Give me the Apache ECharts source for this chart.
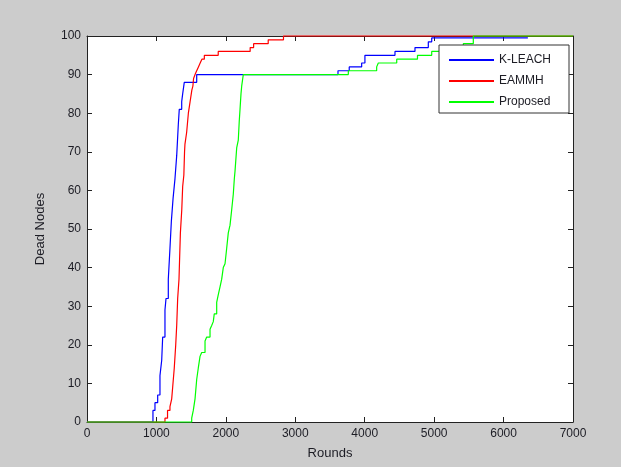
<!DOCTYPE html>
<html>
<head>
<meta charset="utf-8">
<script src="https://cdn.jsdelivr.net/npm/echarts@6/dist/echarts.min.js"></script>
<style>
html, body { margin: 0; padding: 0; background: #cccccc; }
#chart { width: 621px; height: 467px; }
</style>
</head>
<body>
<div id="chart"></div>
<script>
// rounds at which the dead-node count steps up, and the count after the step
var kleachRounds = [0, 950, 979, 1018, 1051, 1076, 1090, 1123, 1138, 1171, 1195, 1215, 1240, 1267, 1292, 1315, 1329, 1364, 1378, 1401, 1580, 3615, 3777, 3956, 4003, 4436, 4724, 4916, 4965, 6350];
var kleachDead = [0, 3, 5, 7, 12, 16, 22, 29, 32, 37, 45, 52, 58, 63, 69, 77, 81, 83, 85, 88, 90, 91, 92, 93, 95, 96, 97, 98.5, 99.5, 99.5];

var eammhRounds = [0, 1123, 1160, 1195, 1220, 1234, 1257, 1278, 1292, 1306, 1325, 1345, 1365, 1378, 1395, 1405, 1411, 1435, 1460, 1485, 1510, 1525, 1535, 1556, 1580, 1605, 1630, 1655, 1690, 1890, 2350, 2400, 2610, 2830, 7000];
var eammhDead = [0, 1, 3, 4, 6, 9, 14, 20, 25, 32, 37, 49, 55, 61, 64, 70, 72, 75, 80, 83, 86, 87, 89, 90, 91, 92, 93, 94, 95, 96, 97, 98, 99, 100, 100];

var proposedRounds = [0, 1508, 1531, 1556, 1580, 1603, 1628, 1652, 1700, 1724, 1772, 1796, 1819, 1833, 1868, 1891, 1916, 1940, 1963, 1988, 2012, 2035, 2060, 2084, 2107, 2122, 2132, 2156, 2179, 2193, 2204, 2218, 2228, 2251, 3764, 4172, 4196, 4461, 4760, 4965, 5200, 5420, 5564, 7000];
var proposedDead = [0, 1, 3, 6, 11, 14, 17, 18, 21, 22, 24, 25, 26, 28, 31, 33, 35, 37, 40, 41, 45, 49, 51, 55, 59, 63, 65, 71, 73, 78, 81, 85, 87, 90, 91, 92, 93, 94, 95, 96, 97, 98, 100, 100];

var seriesNames = ['K-LEACH', 'EAMMH', 'Proposed'];
var seriesColors = ['#0000ff', '#ff0000', '#00ff00'];

function pairs(xs, ys) {
	var out = [];
	for (var i = 0; i < xs.length; i++) {
		out.push([xs[i], ys[i]]);
	}
	return out;
}

var font = 'Liberation Sans, Arial, sans-serif';
var txt = '#1c1c24';

function boxAxis(pos, isX) {
	var ax = {
		type: 'value',
		position: pos,
		min: 0,
		max: isX ? 7000 : 100,
		interval: isX ? 1000 : 10,
		axisLine: { show: true, onZero: false, lineStyle: { color: '#222', width: 1 } },
		axisTick: { show: true, inside: true, length: 5, lineStyle: { color: '#222' } },
		axisLabel: { show: false },
		splitLine: { show: false }
	};
	return ax;
}

var myChart = echarts.init(document.getElementById('chart'));

var xMain = boxAxis('bottom', true);
xMain.axisLabel = {
	show: true, margin: 6, color: txt, fontSize: 12, fontFamily: font,
	formatter: function(v) { return String(v); }
};
xMain.name = 'Rounds';
xMain.nameLocation = 'middle';
xMain.nameGap = 25;
xMain.nameTextStyle = { color: txt, fontSize: 13, fontFamily: font };

var yMain = boxAxis('left', false);
yMain.axisLabel = { show: true, margin: 6, color: txt, fontSize: 12, fontFamily: font };
yMain.name = 'Dead Nodes';
yMain.nameLocation = 'middle';
yMain.nameGap = 40;
yMain.nameTextStyle = { color: txt, fontSize: 13, fontFamily: font };

var data = [pairs(kleachRounds, kleachDead), pairs(eammhRounds, eammhDead), pairs(proposedRounds, proposedDead)];
var series = [];
for (var i = 0; i < 3; i++) {
	series.push({
		name: seriesNames[i],
		type: 'line',
		step: 'end',
		symbol: 'none',
		clip: false,
		animation: false,
		lineStyle: { color: seriesColors[i], width: 1.2 },
		itemStyle: { color: seriesColors[i] },
		data: data[i]
	});
}

var option = {
	backgroundColor: '#cccccc',
	animation: false,
	grid: {
		left: 87,
		right: 48,
		top: 36,
		bottom: 45,
		show: true,
		backgroundColor: '#ffffff',
		borderWidth: 0
	},
	legend: {
		orient: 'vertical',
		left: 439,
		top: 45,
		padding: [9, 18, 5, 9],
		itemWidth: 45,
		itemHeight: 14,
		itemGap: 9,
		itemTextGap: 5,
		itemStyle: { opacity: 0 },
		backgroundColor: '#ffffff',
		borderColor: '#333333',
		borderWidth: 1,
		textStyle: { color: txt, fontSize: 12, fontFamily: font },
		data: seriesNames
	},
	xAxis: [xMain, boxAxis('top', true)],
	yAxis: [yMain, boxAxis('right', false)],
	series: series
};

myChart.setOption(option);
</script>
</body>
</html>
